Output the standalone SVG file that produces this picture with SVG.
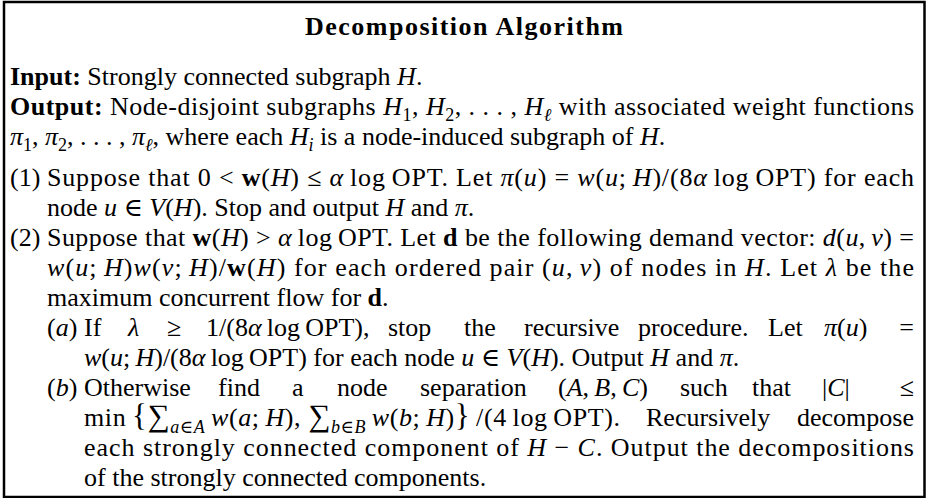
<svg xmlns="http://www.w3.org/2000/svg" width="927" height="498" viewBox="0 0 927 498">
<style>
.t{font-family:"Liberation Serif","DejaVu Serif",serif;font-size:26px;fill:#000}
.b{font-weight:bold}
.i{font-style:italic}
.s{font-size:18px}
.big{font-size:31px}
.frame{fill:#fff;stroke:#000;stroke-width:2.5}
</style>
<rect class="frame" x="4" y="2" width="920.5" height="495"/>
<g id="title">
<text class="t b" x="464" y="35" text-anchor="middle" textLength="318" lengthAdjust="spacing">Decomposition Algorithm</text>
</g>
<g id="io">
<text class="t" x="10" y="85"><tspan class="b">Input:</tspan> Strongly connected subgraph <tspan class="i">H</tspan>.</text>
<text class="t" x="10" y="115" textLength="904" lengthAdjust="spacing"><tspan class="b">Output:</tspan> Node-disjoint subgraphs <tspan class="i">H</tspan><tspan class="s" dy="6">1</tspan><tspan dy="-6">, </tspan><tspan class="i">H</tspan><tspan class="s" dy="6">2</tspan><tspan dy="-6">, . . . , </tspan><tspan class="i">H</tspan><tspan class="s i" dy="6">ℓ</tspan><tspan dy="-6"> with associated weight functions</tspan></text>
<text class="t" x="10" y="145"><tspan class="i">π</tspan><tspan class="s" dy="6">1</tspan><tspan dy="-6">, </tspan><tspan class="i">π</tspan><tspan class="s" dy="6">2</tspan><tspan dy="-6">, . . . , </tspan><tspan class="i">π</tspan><tspan class="s i" dy="6">ℓ</tspan><tspan dy="-6">, where each </tspan><tspan class="i">H</tspan><tspan class="s i" dy="6">i</tspan><tspan dy="-6"> is a node-induced subgraph of </tspan><tspan class="i">H</tspan>.</text>
</g>
<g id="step1">
<text class="t" x="10" y="186">(1)</text>
<text class="t" x="47" y="186" textLength="867" lengthAdjust="spacing">Suppose that 0 &lt; <tspan class="b">w</tspan>(<tspan class="i">H</tspan>) ≤ <tspan class="i">α</tspan>&#8201;log&#8201;OPT. Let <tspan class="i">π</tspan>(<tspan class="i">u</tspan>) = <tspan class="i">w</tspan>(<tspan class="i">u</tspan>;&#8201;<tspan class="i">H</tspan>)/(8<tspan class="i">α</tspan>&#8201;log&#8201;OPT) for each</text>
<text class="t" x="47" y="216">node <tspan class="i">u</tspan> ∈ <tspan class="i">V</tspan>(<tspan class="i">H</tspan>). Stop and output <tspan class="i">H</tspan> and <tspan class="i">π</tspan>.</text>
</g>
<g id="step2">
<text class="t" x="10" y="246">(2)</text>
<text class="t" x="47" y="246" textLength="867" lengthAdjust="spacing">Suppose that <tspan class="b">w</tspan>(<tspan class="i">H</tspan>) &gt; <tspan class="i">α</tspan>&#8201;log&#8201;OPT. Let <tspan class="b">d</tspan> be the following demand vector: <tspan class="i">d</tspan>(<tspan class="i">u</tspan>,&#8201;<tspan class="i">v</tspan>) =</text>
<text class="t" x="47" y="276" textLength="867" lengthAdjust="spacing"><tspan class="i">w</tspan>(<tspan class="i">u</tspan>;&#8201;<tspan class="i">H</tspan>)<tspan class="i">w</tspan>(<tspan class="i">v</tspan>;&#8201;<tspan class="i">H</tspan>)/<tspan class="b">w</tspan>(<tspan class="i">H</tspan>) for each ordered pair (<tspan class="i">u</tspan>,&#8201;<tspan class="i">v</tspan>) of nodes in <tspan class="i">H</tspan>. Let <tspan class="i">λ</tspan> be the</text>
<text class="t" x="47" y="306">maximum concurrent flow for <tspan class="b">d</tspan>.</text>
</g>
<g id="step2a">
<text class="t" x="47" y="336">(<tspan class="i">a</tspan>)</text>
<text class="t" x="84" y="336">If</text>
<text class="t i" x="128" y="336">λ</text>
<text class="t" x="167" y="336">≥</text>
<text class="t" x="206" y="336">1/(8<tspan class="i">α</tspan>&#8201;log&#8201;OPT),</text>
<text class="t" x="388" y="336">stop</text>
<text class="t" x="464" y="336">the</text>
<text class="t" x="524" y="336">recursive</text>
<text class="t" x="638" y="336">procedure.</text>
<text class="t" x="768" y="336">Let</text>
<text class="t" x="824" y="336"><tspan class="i">π</tspan>(<tspan class="i">u</tspan>)</text>
<text class="t" x="914" y="336" text-anchor="end">=</text>
<text class="t" x="84" y="366"><tspan class="i">w</tspan>(<tspan class="i">u</tspan>;&#8201;<tspan class="i">H</tspan>)/(8<tspan class="i">α</tspan>&#8201;log&#8201;OPT) for each node <tspan class="i">u</tspan> ∈ <tspan class="i">V</tspan>(<tspan class="i">H</tspan>). Output <tspan class="i">H</tspan> and <tspan class="i">π</tspan>.</text>
</g>
<g id="step2b">
<text class="t" x="47" y="396">(<tspan class="i">b</tspan>)</text>
<text class="t" x="84" y="396">Otherwise</text>
<text class="t" x="218" y="396">find</text>
<text class="t" x="292" y="396">a</text>
<text class="t" x="337" y="396">node</text>
<text class="t" x="420" y="396">separation</text>
<text class="t" x="558" y="396">(<tspan class="i">A</tspan>,&#8201;<tspan class="i">B</tspan>,&#8201;<tspan class="i">C</tspan>)</text>
<text class="t" x="680" y="396">such</text>
<text class="t" x="752" y="396">that</text>
<text class="t" x="822" y="396">|<tspan class="i">C</tspan>|</text>
<text class="t" x="914" y="396" text-anchor="end">≤</text>
<text class="t" x="84" y="426" textLength="536" lengthAdjust="spacing">min&#8201;<tspan class="big">{</tspan><tspan class="big">∑</tspan><tspan class="s i" dy="7">a</tspan><tspan class="s">∈</tspan><tspan class="s i">A</tspan><tspan dy="-7">&#8201;</tspan><tspan class="i">w</tspan>(<tspan class="i">a</tspan>;&#8201;<tspan class="i">H</tspan>), <tspan class="big">∑</tspan><tspan class="s i" dy="7">b</tspan><tspan class="s">∈</tspan><tspan class="s i">B</tspan><tspan dy="-7">&#8201;</tspan><tspan class="i">w</tspan>(<tspan class="i">b</tspan>;&#8201;<tspan class="i">H</tspan>)<tspan class="big">}</tspan>&#8201;/(4&#8201;log&#8201;OPT).</text>
<text class="t" x="646" y="426">Recursively</text>
<text class="t" x="914" y="426" text-anchor="end">decompose</text>
<text class="t" x="84" y="456" textLength="830" lengthAdjust="spacing">each strongly connected component of <tspan class="i">H</tspan> − <tspan class="i">C</tspan>. Output the decompositions</text>
<text class="t" x="84" y="486">of the strongly connected components.</text>
</g>
</svg>
